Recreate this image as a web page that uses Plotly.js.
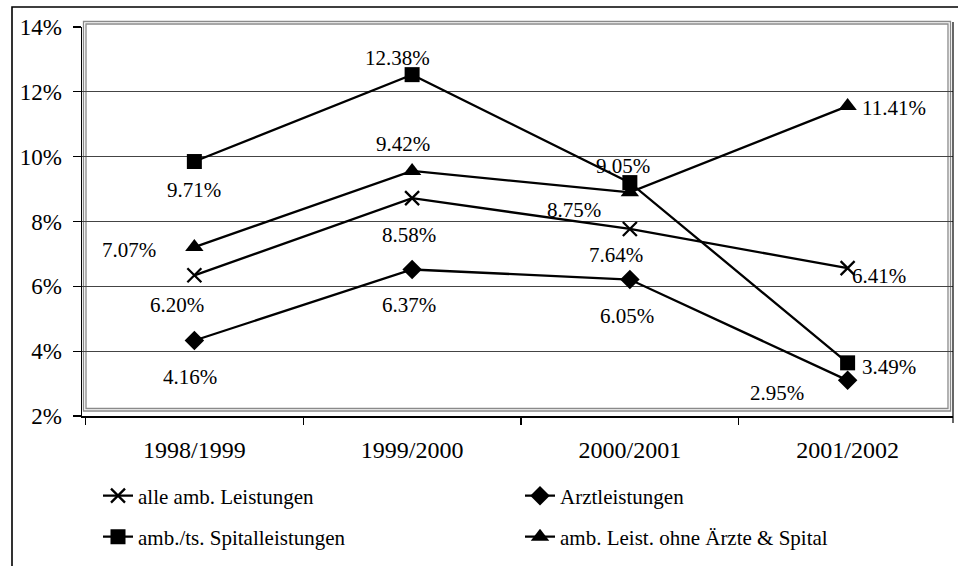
<!DOCTYPE html>
<html>
<head>
<meta charset="utf-8">
<script src="https://cdn.plot.ly/plotly-3.0.1.min.js"></script>
<style>html,body{margin:0;padding:0;background:#fff;}#chart{width:958px;height:566px;}</style>
</head>
<body>
<div id="chart"></div>
<script>
// ---- data ----
const categories = ["1998/1999", "1999/2000", "2000/2001", "2001/2002"];
const seriesNames = ["alle amb. Leistungen", "Arztleistungen", "amb./ts. Spitalleistungen", "amb. Leist. ohne Ärzte & Spital"];
// plotted positions (in %)
const alleAmb   = [6.34, 8.72, 7.77, 6.56];
const arzt      = [4.33, 6.52, 6.21, 3.10];
const spital    = [9.85, 12.53, 9.20, 3.64];
const ohneAerzte= [7.21, 9.56, 8.90, 11.56];
// data label texts
const alleAmbLabels    = ["6.20%", "8.58%", "7.64%", "6.41%"];
const arztLabels       = ["4.16%", "6.37%", "6.05%", "2.95%"];
const spitalLabels     = ["9.71%", "12.38%", "9.05%", "3.49%"];
const ohneAerzteLabels = ["7.07%", "9.42%", "8.75%", "11.41%"];
const yTickVals = [2, 4, 6, 8, 10, 12, 14];
const yTickText = ["2%", "4%", "6%", "8%", "10%", "12%", "14%"];

// ---- styling / label placement (pixel offsets) ----
const FONT = "Liberation Serif";
const offsets = {
  alle:   [[-17,-30],[-3,-37],[-14,-26],[31,-8]],
  arzt:   [[-4,-37],[-3,-36],[-3,-36],[-71,-13]],
  spital: [[0,-28],[-15,17],[-7,17],[41,-4]],
  ohne:   [[-65,-3],[-9,27],[-56,-18],[46,-2]]
};

function mkTrace(name, y, symbol, size, legend, lineW) {
  return {
    type: "scatter", mode: "lines+markers", name: name,
    x: categories, y: y, legend: legend,
    line: {color: "#000", width: 2.3},
    marker: {symbol: symbol, size: size, color: "#000", line: {color: "#000", width: lineW}},
    cliponaxis: false, hoverinfo: "skip"
  };
}
const traces = [
  mkTrace(seriesNames[0], alleAmb, "x-thin-open", 14, "legend", 2.3),
  mkTrace(seriesNames[1], arzt, "diamond", 15, "legend", 0),
  mkTrace(seriesNames[2], spital, "square", 15, "legend2", 0),
  mkTrace(seriesNames[3], ohneAerzte, "triangle-up", 16, "legend2", 0)
];

const annotations = [];
function addLabels(values, texts, offs) {
  values.forEach((v, i) => {
    annotations.push({
      x: categories[i], y: v, xref: "x", yref: "y", text: texts[i], showarrow: false,
      xshift: offs[i][0], yshift: offs[i][1], font: {family: FONT, size: 21, color: "#000"}
    });
  });
}
addLabels(alleAmb, alleAmbLabels, offsets.alle);
addLabels(arzt, arztLabels, offsets.arzt);
addLabels(spital, spitalLabels, offsets.spital);
addLabels(ohneAerzte, ohneAerzteLabels, offsets.ohne);

// plot area geometry: left 82, right 953, top 27, bottom 416
const PL = 82, PW = 871, PB = 416, PH = 389;
const px = v => (v - PL) / PW;
const py = v => (PB - v) / PH;

const shapes = [
  {type: "rect", xref: "paper", yref: "paper", x0: px(12), x1: px(1000), y0: py(620), y1: py(7),
   line: {color: "#000", width: 1.6}, fillcolor: "rgba(0,0,0,0)", layer: "below"},
  {type: "rect", xref: "paper", yref: "paper", x0: px(83.5), x1: px(950.5), y0: py(411), y1: py(21.5),
   line: {color: "#8a8a8a", width: 1.3}, fillcolor: "rgba(0,0,0,0)", layer: "below"},
  {type: "rect", xref: "paper", yref: "paper", x0: px(86), x1: px(948), y0: py(408.5), y1: py(24),
   line: {color: "#8a8a8a", width: 1.3}, fillcolor: "rgba(0,0,0,0)", layer: "below"},
  {type: "line", xref: "paper", yref: "paper", x0: 1, x1: 1, y0: py(423), y1: py(22),
   line: {color: "#000", width: 1.2}}
];

const legendCommon = {
  orientation: "h", xanchor: "left", yanchor: "middle",
  font: {family: FONT, size: 21, color: "#000"},
  bgcolor: "rgba(0,0,0,0)", borderwidth: 0,
  entrywidth: 377, entrywidthmode: "pixels", itemclick: false, itemdoubleclick: false
};

const layout = {
  width: 958, height: 566,
  margin: {l: PL, r: 958 - PL - PW, t: PB - PH, b: 566 - PB},
  paper_bgcolor: "#fff", plot_bgcolor: "rgba(0,0,0,0)",
  font: {family: FONT, color: "#000"},
  showlegend: true,
  xaxis: {
    type: "category", range: [-0.516, 3.484],
    showgrid: false, zeroline: false,
    showline: true, linecolor: "#000", linewidth: 1.5,
    ticks: "outside", tickson: "boundaries", ticklen: 7, tickcolor: "#000", tickwidth: 1.2,
    tickfont: {family: FONT, size: 24, color: "#000"},
    ticklabelstandoff: 12, fixedrange: true
  },
  yaxis: {
    range: [2, 14], tickvals: yTickVals, ticktext: yTickText,
    showgrid: true, gridcolor: "#444", gridwidth: 1,
    zeroline: false, showline: true, linecolor: "#000", linewidth: 1.5,
    ticks: "outside", ticklen: 8, tickcolor: "#000", tickwidth: 1.2,
    tickfont: {family: FONT, size: 23, color: "#000"},
    ticklabelstandoff: 6, fixedrange: true
  },
  legend: Object.assign({}, legendCommon, {x: px(98), y: py(496)}),
  legend2: Object.assign({}, legendCommon, {x: px(98), y: py(537)}),
  annotations: annotations,
  shapes: shapes
};

Plotly.newPlot("chart", traces, layout, {staticPlot: true, displayModeBar: false});
</script>
</body>
</html>
